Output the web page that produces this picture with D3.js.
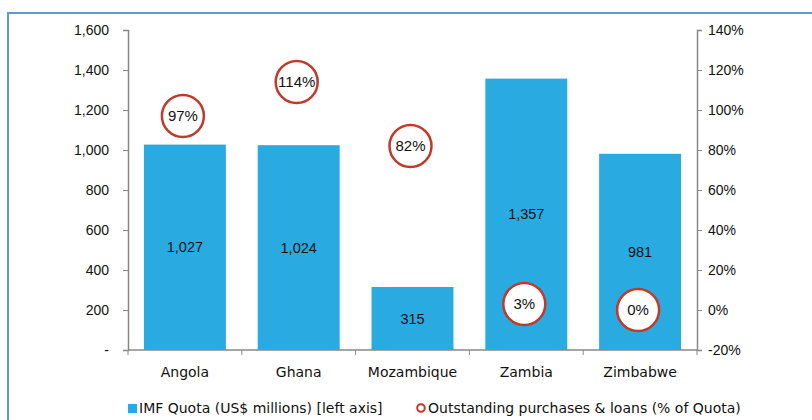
<!DOCTYPE html>
<html><head><meta charset="utf-8">
<script src="https://cdn.jsdelivr.net/npm/d3@7"></script>
<style>body{margin:0;background:#fff}svg{display:block}</style>
</head><body><svg id="c" width="812" height="420"></svg>
<script>
const categories = ["Angola","Ghana","Mozambique","Zambia","Zimbabwe"];
const quota = [1027,1024,315,1357,981];
const outstanding = [97,114,82,3,0];
const leftTicks = [0,200,400,600,800,1000,1200,1400,1600];
const rightTicks = [-20,0,20,40,60,80,100,120,140];
const legendLabels = ["IMF Quota (US$ millions) [left axis]","Outstanding purchases & loans (% of Quota)"];

const svg = d3.select("#c");
const font = "'DejaVu Sans', sans-serif";
const tickFont = "'Liberation Sans', Arial, sans-serif";
const barColor = "#29ABE2", ringColor = "#C0392B", axisColor = "#888";

svg.append("rect").attr("x",8).attr("y",13).attr("width",820).attr("height",430)
  .attr("fill","none").attr("stroke","#5B9BD5").attr("stroke-width",2);

const x = d3.scaleBand().domain(categories).range([128,697]).paddingInner(0.28).paddingOuter(0.14);
const yL = d3.scaleLinear().domain([0,1600]).range([350,30]);
const yR = d3.scaleLinear().domain([-20,140]).range([350,30]);

// bars
svg.selectAll("rect.bar").data(categories).join("rect").attr("class","bar")
  .attr("x",d=>x(d)).attr("width",x.bandwidth())
  .attr("y",(d,i)=>yL(quota[i])).attr("height",(d,i)=>yL(0)-yL(quota[i]))
  .attr("fill",barColor);

svg.selectAll("text.val").data(categories).join("text").attr("class","val")
  .attr("x",d=>x(d)+x.bandwidth()/2).attr("y",(d,i)=>(yL(quota[i])+yL(0))/2+5)
  .attr("text-anchor","middle").style("font-family",tickFont).style("font-size","14.5px").attr("fill","#111")
  .text((d,i)=>d3.format(",")(quota[i]));

// left axis
const gL = svg.append("g").attr("transform","translate(128,0)")
  .call(d3.axisLeft(yL).tickValues(leftTicks).tickSize(5).tickPadding(14)
    .tickFormat(d=>d===0?"-":d3.format(",")(d)));
// right axis
const gR = svg.append("g").attr("transform","translate(697,0)")
  .call(d3.axisRight(yR).tickValues(rightTicks).tickSize(5).tickPadding(6)
    .tickFormat(d=>d+"%"));
// x axis
const xTicks = categories.map(c=>x(c)-x.step()*x.paddingInner()/2);
xTicks.push(697);
const gX = svg.append("g");
gX.append("line").attr("x1",128).attr("x2",697).attr("y1",350).attr("y2",350).attr("stroke",axisColor).attr("stroke-width",1.5);
gX.selectAll("line.t").data(xTicks).join("line").attr("class","t")
  .attr("x1",d=>d).attr("x2",d=>d).attr("y1",350).attr("y2",355).attr("stroke",axisColor);
gX.selectAll("text").data(categories).join("text")
  .attr("x",d=>x(d)+x.bandwidth()/2).attr("y",377).attr("text-anchor","middle")
  .style("font-family",font).style("font-size","14px").attr("fill","#111").text(d=>d);

[gL,gR].forEach(g=>{
  g.select(".domain").attr("stroke",axisColor).attr("stroke-width",1.5);
  g.selectAll(".tick line").attr("stroke",axisColor);
  g.selectAll(".tick text").style("font-family",tickFont).style("font-size","14px").attr("fill","#111");
});

// circles
const cg = svg.selectAll("g.circ").data(categories).join("g").attr("class","circ")
  .attr("transform",(d,i)=>`translate(${x(d)+x.bandwidth()/2-2},${yR(outstanding[i])})`);
cg.append("ellipse").attr("rx",21).attr("ry",21).attr("fill","#fff").attr("stroke",ringColor).attr("stroke-width",2.5);
cg.append("text").attr("text-anchor","middle").attr("y",5)
  .style("font-family",tickFont).style("font-size","15px").attr("fill","#111")
  .text((d,i)=>outstanding[i]+"%");

// legend
svg.append("rect").attr("x",128).attr("y",404).attr("width",9).attr("height",9).attr("fill",barColor);
svg.append("text").attr("x",139).attr("y",413).style("font-family",font).style("font-size","14px").attr("fill","#111").text(legendLabels[0]);
svg.append("circle").attr("cx",421).attr("cy",408).attr("r",3.8).attr("fill","#fff").attr("stroke",ringColor).attr("stroke-width",2);
svg.append("text").attr("x",428).attr("y",413).style("font-family",font).style("font-size","14px").attr("fill","#111").text(legendLabels[1]);
</script></body></html>
